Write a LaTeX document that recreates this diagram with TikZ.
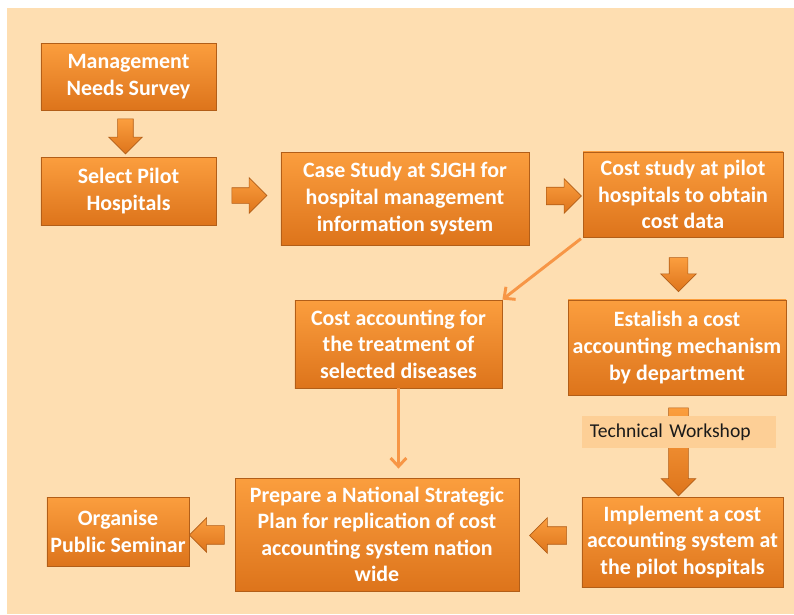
\documentclass[tikz,border=0pt]{standalone}
\usepackage[HTML]{xcolor}
\usepackage{fontspec}
\setmainfont{Carlito}
\usepackage{tikz}
\usetikzlibrary{positioning, arrows.meta, shapes.arrows}

\definecolor{bgpeach}{HTML}{FEDEB1}
\definecolor{boxtop}{HTML}{FB9E3E}
\definecolor{boxbot}{HTML}{DD741B}
\definecolor{boxedge}{HTML}{B25E18}
\definecolor{linkor}{HTML}{F79646}
\definecolor{tagfill}{HTML}{FDCF96}

\tikzset{
  stepbox/.style={rectangle, top color=boxtop, bottom color=boxbot, draw=boxedge,
    line width=0.8pt, text=white, align=center, inner sep=2pt,
    font=\bfseries\fontsize{20.8}{25.2}\selectfont},
  blockarrow/.style={single arrow, top color=boxtop, bottom color=boxbot, draw=boxedge,
    line width=0.6pt, single arrow tip angle=90},
  link/.style={draw=linkor, line width=2.8pt, -{Straight Barb[length=8pt,width=15pt]}},
  tag/.style={rectangle, fill=tagfill, text=black!90, align=left, inner sep=0pt,
    font=\fontsize{18.6}{22}\selectfont}
}

\begin{document}
\begin{tikzpicture}
\useasboundingbox (0,0) rectangle (26.467,-20.467);
\fill[bgpeach] (0.233,-0.267) rectangle (26.467,-20.467);

% boxes
\node[stepbox, minimum width=5.833cm, minimum height=2.233cm] (mns) at (4.283,-2.55) {Management\\Needs Survey};
\node[stepbox, minimum width=5.833cm, minimum height=2.267cm] (sel) at (4.283,-6.367) {Select Pilot\\Hospitals};
\node[stepbox, minimum width=8.267cm, minimum height=3.1cm] (case) at (13.5,-6.617) {Case Study at SJGH for\\hospital management\\information system};
\node[stepbox, minimum width=6.667cm, minimum height=2.833cm] (cost) at (22.767,-6.483) {Cost study at pilot\\hospitals to obtain\\cost data};
\node[stepbox, minimum width=6.9cm, minimum height=2.933cm] (treat) at (13.283,-11.467) {Cost accounting for\\the treatment of\\selected diseases};
\node[stepbox, minimum width=7.267cm, minimum height=3.167cm] (mech) at (22.567,-11.583) {Estalish a cost\\accounting mechanism\\by department};
\node[stepbox, minimum width=6.7cm, minimum height=3.0cm] (impl) at (22.75,-18.067) {Implement a cost\\accounting system at\\the pilot hospitals};
\node[stepbox, minimum width=9.467cm, minimum height=3.767cm] (plan) at (12.567,-17.817) {Prepare a National Strategic\\Plan for replication of cost\\accounting system nation\\wide};
\node[stepbox, minimum width=4.733cm, minimum height=2.3cm] (sem) at (3.933,-17.717) {Organise\\Public Seminar};

% block arrows (inner sep = half the shaft)
\node[blockarrow, shape border rotate=270, inner sep=0.25cm, minimum height=1.167cm, single arrow head extend=0.3cm] (a12) at (4.183,-4.417) {};
\node[blockarrow, inner sep=0.25cm, minimum height=1.167cm, single arrow head extend=0.333cm] (a23) at (8.183,-6.517) {};
\node[blockarrow, inner sep=0.283cm, minimum height=1.167cm, single arrow head extend=0.283cm] (a34) at (18.65,-6.533) {};
\node[blockarrow, shape border rotate=270, inner sep=0.3cm, minimum height=1.133cm, single arrow head extend=0.283cm] (a46) at (22.617,-9.0) {};
\node[blockarrow, shape border rotate=270, inner sep=0.317cm, minimum height=2.933cm, single arrow head extend=0.25cm] (a68) at (22.617,-14.9) {};
\node[blockarrow, shape border rotate=180, inner sep=0.283cm, minimum height=1.233cm, single arrow head extend=0.3cm] (a89) at (18.417,-17.85) {};
\node[blockarrow, shape border rotate=180, inner sep=0.3cm, minimum height=1.167cm, single arrow head extend=0.267cm] (a910) at (7.05,-17.833) {};

% workshop tag over the long arrow
\node[tag, text width=5.933cm, minimum height=1.067cm, inner xsep=0.267cm] (work) at (22.633,-14.4) {Technical Workshop};

% thin arrows
\draw[link, shorten <=2pt] (cost.south west) -- (treat.north east);
\draw[link, shorten >=0.3cm] (treat.south) -- (treat.south |- plan.north);
\end{tikzpicture}
\end{document}
